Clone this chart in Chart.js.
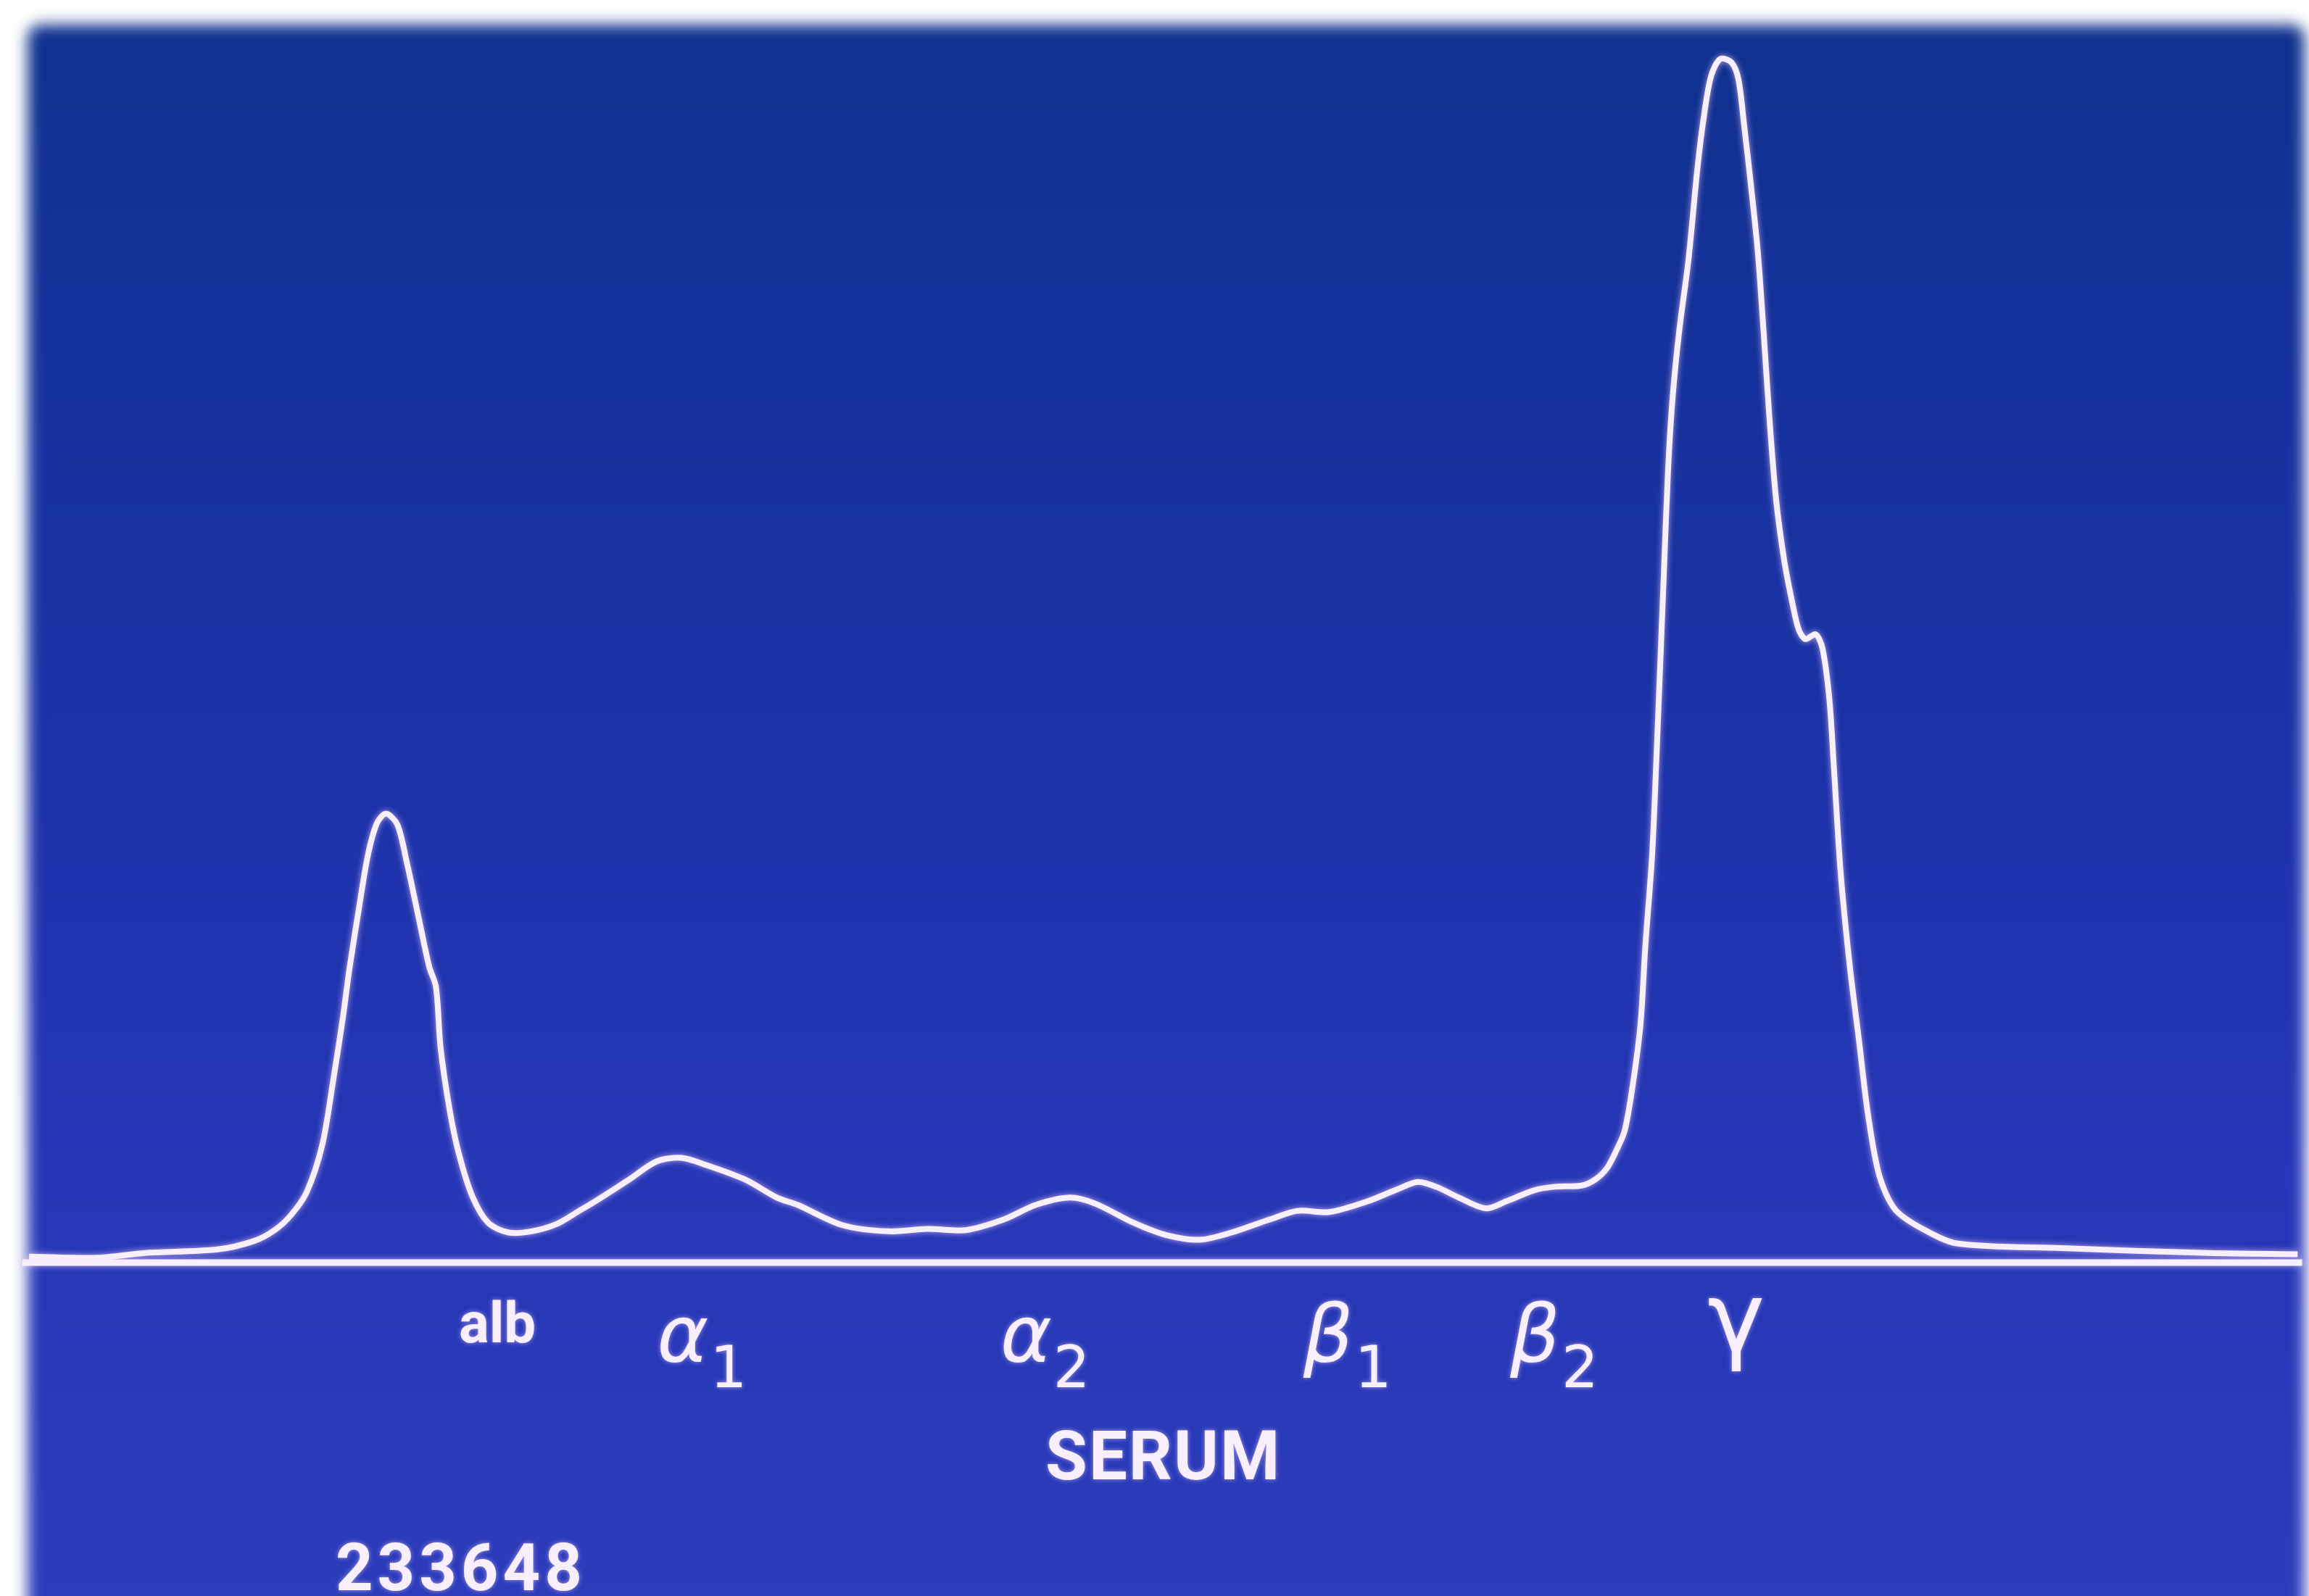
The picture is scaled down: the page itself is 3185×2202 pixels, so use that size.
<!DOCTYPE html>
<html>
<head>
<meta charset="utf-8">
<script src="https://cdn.jsdelivr.net/npm/chart.js@4.4.1/dist/chart.umd.min.js"></script>
<style>
  html, body { margin: 0; padding: 0; background: #fff; }
  body { width: 3185px; height: 2202px; overflow: hidden; position: relative; }
  #slide {
    position: absolute; left: 38px; top: 34px; right: 6px; bottom: -40px;
    border-radius: 18px;
    background: linear-gradient(180deg, #10318e 0%, #15319c 22%, #1c32aa 48%, #2536b6 72%, #2c3cba 100%);
    filter: blur(10px);
  }
  #chart { position: absolute; left: 0; top: 0; }
</style>
</head>
<body>
<div id="slide"></div>
<canvas id="chart" width="3185" height="2202"></canvas>
<script>
// densitometer scan, serum electrophoresis (migration in % of strip, absorbance relative to gamma peak)
const migration = [0.0, 3.0, 5.1, 8.3, 9.9, 10.8, 11.5, 12.2, 12.9, 13.4, 13.8, 14.1, 14.5, 14.9, 15.3, 15.7,
  16.2, 16.6, 17.1, 17.6, 17.9, 18.1, 18.5, 18.9, 19.5, 20.2, 21.1, 22.1, 23.2, 24.2, 25.0, 26.4, 27.6, 28.7,
  29.8, 31.5, 32.9, 33.8, 35.8, 37.8, 39.5, 41.2, 42.9, 44.3, 45.8, 46.9, 48.6, 50.0, 51.5, 52.9, 54.6, 55.8,
  57.2, 58.9, 60.2, 61.1, 61.9, 62.9, 64.1, 65.0, 66.2, 67.1, 68.3, 68.9, 69.4, 69.8, 70.2, 70.6, 70.9, 71.1,
  71.4, 71.6, 71.9, 72.1, 72.3, 72.6, 73.0, 73.4, 73.7, 74.0, 74.4, 74.9, 75.2, 75.45, 75.75, 76.05, 76.3, 76.55,
  76.85, 77.2, 77.55, 77.85, 78.15, 78.6, 78.9, 79.2, 79.4, 79.7, 80.1, 80.5, 80.9, 81.4, 82.1, 83.3, 84.8, 89.4,
  95.9, 99.8];
const absorbance = [0.5, 0.4, 0.8, 1.1, 1.8, 2.7, 3.9, 5.8, 9.8, 15.4, 20.3, 24.5, 29.3, 33.8, 36.5, 37.3,
  36.4, 33.4, 29.0, 24.6, 22.9, 17.9, 12.7, 9.1, 5.5, 3.3, 2.5, 2.6, 3.2, 4.3, 5.2, 6.9, 8.4, 8.7,
  8.1, 6.9, 5.4, 4.8, 3.1, 2.6, 2.8, 2.7, 3.6, 4.8, 5.4, 4.9, 3.3, 2.3, 1.9, 2.5, 3.6, 4.3,
  4.2, 5.1, 6.1, 6.7, 6.3, 5.4, 4.5, 5.1, 6.0, 6.3, 6.4, 6.9, 7.8, 9.2, 11.0, 15.4, 20.0, 26.2,
  33.8, 42.3, 56.4, 65.7, 71.8, 77.5, 83.3, 91.0, 95.5, 98.6, 100.0, 99.7, 98.3, 94.5, 89.5, 84.0, 77.5, 70.5,
  63.5, 58.5, 55.0, 52.6, 51.8, 52.2, 51.0, 46.8, 41.1, 32.3, 24.6, 18.5, 12.3, 7.2, 4.4, 2.8, 1.6, 1.2,
  0.8, 0.7];
const baselineX = [-0.3, 100.0];
const baselineY = [0, 0];

const fractions = ["alb", "α", "α", "β", "β", "γ"];
const fractionSubs = ["", "1", "2", "1", "2", ""];
const title = "SERUM";
const sampleNo = "233648";

// where the labels sit, in chart units
const fractionAt = [20.6, 29.6, 44.7, 58.0, 67.1, 75.1];
const greekLine = -8.2;
const albLine = -6.6;
const titleAt = [49.9, -18.0];
const sampleAt = [19.0, -27.2];

const ink = "#f8effc";

const glow = {
  id: "glow",
  beforeDatasetsDraw(chart) {
    const c = chart.ctx;
    c.save();
    c.shadowColor = "rgba(255,215,255,0.7)";
    c.shadowBlur = 8;
  },
  afterDatasetsDraw(chart) {
    chart.ctx.restore();
  }
};

const labels = {
  id: "labels",
  afterDraw(chart) {
    const c = chart.ctx;
    const xs = chart.scales.x, ys = chart.scales.y;
    c.save();
    c.fillStyle = ink;
    c.shadowColor = "rgba(255,215,255,0.6)";
    c.shadowBlur = 6;
    c.textBaseline = "alphabetic";

    fractions.forEach((name, i) => {
      const cx = xs.getPixelForValue(fractionAt[i]);
      if (name === "alb") {
        c.font = "bold 78px Roboto";
        c.textAlign = "center";
        c.fillText(name, cx, ys.getPixelForValue(albLine));
        return;
      }
      let by = ys.getPixelForValue(greekLine);
      const isGamma = name === "γ";
      if (isGamma) by -= 14;
      const big = isGamma ? '134px "DejaVu Sans"' : 'italic 108px "DejaVu Sans"';
      const small = '80px "DejaVu Sans"';
      c.font = big;
      const w1 = c.measureText(name).width;
      c.font = small;
      const w2 = fractionSubs[i] ? c.measureText(fractionSubs[i]).width + 2 : 0;
      const left = cx - (w1 + w2) / 2;
      c.textAlign = "left";
      c.font = big;
      c.fillText(name, left, by);
      if (fractionSubs[i]) {
        c.font = small;
        c.fillText(fractionSubs[i], left + w1 + 2, by + 36);
      }
    });

    c.font = "bold 94px Roboto";
    c.textAlign = "center";
    c.letterSpacing = "2px";
    c.fillText(title, xs.getPixelForValue(titleAt[0]), ys.getPixelForValue(titleAt[1]));
    c.font = "bold 90px Roboto";
    c.letterSpacing = "6px";
    c.fillText(sampleNo, xs.getPixelForValue(sampleAt[0]), ys.getPixelForValue(sampleAt[1]));
    c.restore();
  }
};

new Chart(document.getElementById("chart"), {
  type: "line",
  data: {
    datasets: [
      {
        data: migration.map((m, i) => ({ x: m, y: absorbance[i] })),
        borderColor: ink,
        borderWidth: 8,
        pointRadius: 0,
        tension: 0.3,
        fill: false
      },
      {
        data: baselineX.map((m, i) => ({ x: m, y: baselineY[i] })),
        borderColor: ink,
        borderWidth: 9,
        pointRadius: 0,
        fill: false
      }
    ]
  },
  options: {
    responsive: false,
    devicePixelRatio: 1,
    animation: false,
    layout: { padding: 0 },
    plugins: { legend: { display: false }, tooltip: { enabled: false } },
    scales: {
      x: { type: "linear", display: false, min: -1.28, max: 100.3 },
      y: { type: "linear", display: false, min: -27.7, max: 104.9 }
    }
  },
  plugins: [glow, labels]
});
</script>
</body>
</html>
